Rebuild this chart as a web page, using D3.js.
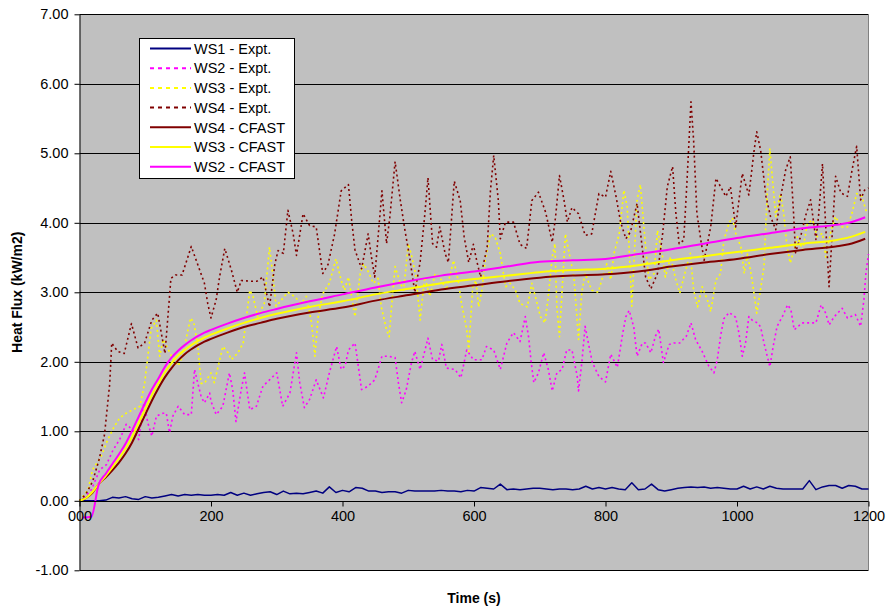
<!DOCTYPE html>
<html><head><meta charset="utf-8">
<script src="https://cdn.jsdelivr.net/npm/d3@7"></script>
<style>
html,body{margin:0;padding:0;background:#fff;}
svg text{font-family:"Liberation Sans",Arial,sans-serif;}
</style></head>
<body><svg id="chart" width="889" height="612"></svg>
<script>
// ---------- data ----------
const xTickValues = [0, 200, 400, 600, 800, 1000, 1200];
const xTickLabels = ["000", "200", "400", "600", "800", "1000", "1200"];
const yTickValues = [-1, 0, 1, 2, 3, 4, 5, 6, 7];
const yTickLabels = ["-1.00", "0.00", "1.00", "2.00", "3.00", "4.00", "5.00", "6.00", "7.00"];

const ws1Times = d3.range(0, 1201, 10);
const ws1Expt = [0,0,0,0,0.01,0.05,0.04,0.06,0.03,0.02,0.06,0.04,0.05,0.07,0.09,0.07,0.09,0.08,0.09,0.08,
  0.08,0.09,0.08,0.12,0.08,0.11,0.08,0.1,0.12,0.13,0.09,0.14,0.1,0.11,0.1,0.12,0.14,0.11,0.2,0.12,
  0.15,0.13,0.19,0.18,0.14,0.14,0.12,0.13,0.13,0.11,0.15,0.14,0.14,0.14,0.14,0.15,0.14,0.14,0.13,0.15,
  0.14,0.19,0.18,0.17,0.24,0.16,0.17,0.16,0.17,0.18,0.18,0.17,0.16,0.17,0.17,0.16,0.17,0.21,0.17,0.19,
  0.17,0.19,0.17,0.16,0.26,0.16,0.17,0.24,0.16,0.14,0.16,0.18,0.19,0.2,0.19,0.2,0.18,0.19,0.18,0.17,
  0.17,0.21,0.17,0.2,0.17,0.21,0.18,0.17,0.17,0.17,0.17,0.29,0.16,0.2,0.22,0.22,0.18,0.22,0.21,0.17,0.17];

const ws2Expt = [[0,0],[9,0.06],[18,0.16],[31,0.45],[41,0.52],[51,0.73],[61,0.88],[71,1.1],[81,1.02],[90,0.88],[98,1.41],[104,1.12],[110,0.93],[117,1.22],[127,1.26],[132,1.26],[137,0.98],[142,1.22],[150,1.36],[160,1.24],[170,1.24],[175,1.89],[180,1.69],[185,1.5],[190,1.41],[198,1.55],[200,1.43],[208,1.24],[218,1.36],[228,1.84],[233,1.6],[238,1.14],[246,1.6],[251,1.84],[259,1.31],[269,1.36],[279,1.65],[289,1.74],[300,1.84],[309,1.36],[320,1.55],[330,2.13],[335,1.7],[342,1.34],[350,1.46],[360,1.74],[371,1.48],[380,1.84],[391,2.22],[398,1.89],[404,1.94],[409,2.17],[419,2.27],[424,1.94],[429,1.6],[439,1.65],[449,1.74],[454,1.89],[460,2.08],[470,2.08],[480,2.06],[485,1.7],[490,1.41],[497,1.6],[505,1.99],[510,2.15],[518,1.89],[525,2.15],[530,2.34],[537,2.03],[546,2.01],[551,2.25],[558,1.91],[571,1.89],[580,1.77],[589,2.17],[599,2.03],[612,2.03],[619,2.22],[630,2.17],[640,1.89],[650,2.27],[660,2.42],[670,2.29],[678,2.65],[683,2.36],[687,1.99],[691,1.7],[698,1.84],[706,2.13],[713,1.89],[719,1.58],[726,1.84],[734,1.89],[741,2.17],[749,2.17],[757,1.79],[759,1.58],[764,1.99],[769,2.51],[775,2.22],[780,1.99],[790,1.79],[800,1.71],[808,2.11],[818,1.92],[826,2.4],[831,2.65],[836,2.74],[843,2.5],[848,2.08],[856,2.27],[861,2.27],[869,2.13],[876,2.37],[881,2.47],[888,1.99],[897,2.25],[904,2.27],[913,2.27],[923,2.37],[930,2.56],[937,2.32],[947,2.15],[957,1.94],[965,1.84],[970,2.03],[975,2.37],[980,2.62],[988,2.71],[998,2.64],[1003,2.41],[1008,2.08],[1013,2.27],[1018,2.65],[1023,2.6],[1031,2.56],[1036,2.5],[1041,2.27],[1046,2.08],[1050,1.93],[1055,2.22],[1061,2.51],[1069,2.65],[1077,2.82],[1082,2.75],[1087,2.46],[1092,2.5],[1099,2.56],[1112,2.56],[1120,2.56],[1128,2.82],[1135,2.7],[1140,2.53],[1148,2.65],[1160,2.77],[1168,2.63],[1180,2.68],[1188,2.51],[1193,2.89],[1196,3.27],[1200,3.55]];

const ws3Expt = [[0,0],[13,0.16],[20,0.45],[33,0.64],[43,0.88],[53,1.07],[61,1.19],[71,1.26],[81,1.31],[92,1.36],[99,1.69],[104,2.08],[109,2.48],[117,2.6],[122,2.08],[127,2.32],[135,2.18],[140,2.08],[150,1.94],[157,2.08],[165,2.46],[169,2.63],[174,2.56],[180,2.22],[185,1.69],[190,1.69],[200,1.84],[205,1.7],[218,2.22],[226,2.13],[231,2.03],[241,2.13],[249,2.27],[254,2.65],[259,3.03],[264,2.94],[271,2.65],[281,2.84],[289,3.65],[294,3.25],[299,2.8],[307,2.89],[317,3.0],[327,2.94],[337,2.84],[345,2.94],[353,2.56],[358,2.08],[363,2.65],[370,2.98],[380,3.13],[390,3.48],[398,3.17],[403,3.03],[409,3.22],[419,2.65],[427,3.27],[432,3.41],[439,3.3],[447,3.13],[454,3.2],[459,2.79],[467,2.46],[471,2.36],[475,2.84],[480,3.37],[488,3.13],[493,3.03],[500,3.7],[505,3.53],[512,3.22],[518,2.6],[525,3.22],[533,2.94],[541,3.27],[548,3.22],[558,3.03],[569,3.46],[576,3.17],[581,2.84],[589,2.46],[592,2.15],[598,3.08],[603,3.17],[607,2.79],[612,3.03],[617,3.46],[625,3.84],[632,3.8],[640,3.56],[648,3.08],[655,3.13],[663,3.03],[670,2.84],[681,2.79],[688,3.13],[696,2.84],[701,2.65],[708,2.56],[713,2.94],[719,3.51],[723,3.7],[726,2.79],[730,2.36],[734,3.03],[739,3.84],[744,3.6],[752,3.22],[759,2.32],[764,3.0],[769,3.27],[779,3.03],[789,3.0],[795,3.2],[802,3.41],[808,3.18],[813,3.56],[821,3.85],[828,4.47],[833,4.23],[840,2.8],[848,4.33],[853,4.55],[861,3.65],[866,3.18],[874,3.27],[879,3.89],[886,3.56],[891,3.22],[899,3.51],[907,3.18],[913,2.99],[920,3.25],[929,3.56],[934,3.03],[940,2.79],[947,3.08],[955,2.89],[960,2.72],[968,3.18],[975,3.27],[980,3.75],[988,4.0],[993,4.07],[998,3.85],[1006,3.65],[1011,3.27],[1016,3.55],[1023,3.18],[1030,2.7],[1035,2.99],[1041,3.37],[1046,4.42],[1050,5.07],[1054,4.62],[1059,4.09],[1066,4.42],[1071,4.14],[1076,3.66],[1081,3.42],[1092,3.8],[1100,3.61],[1107,3.99],[1115,4.04],[1122,3.8],[1130,3.85],[1135,3.51],[1143,3.89],[1150,4.09],[1158,3.94],[1168,3.94],[1175,4.14],[1182,4.42],[1190,4.38],[1196,4.18],[1200,4.14]];

const ws4Expt = [[0,0],[10,0.1],[20,0.28],[30,0.6],[38,0.95],[46,1.69],[49,2.27],[58,2.15],[68,2.12],[79,2.55],[89,2.2],[99,2.27],[110,2.6],[119,2.7],[130,2.12],[137,2.95],[139,3.2],[146,3.25],[156,3.25],[170,3.66],[176,3.5],[190,3.13],[195,2.84],[200,2.63],[208,2.9],[213,3.22],[221,3.63],[231,3.32],[240,3.0],[246,3.17],[260,3.16],[270,3.16],[279,3.22],[289,2.79],[297,3.4],[302,3.6],[310,3.56],[317,4.18],[325,3.84],[330,3.53],[340,4.13],[350,3.96],[360,3.94],[370,3.27],[378,3.4],[388,3.84],[398,4.46],[409,4.55],[414,4.03],[419,3.61],[429,3.34],[439,3.84],[444,3.51],[449,3.22],[460,4.46],[467,3.7],[472,4.08],[480,4.88],[488,4.32],[495,3.89],[502,3.51],[510,3.0],[518,3.43],[525,4.1],[530,4.65],[537,3.7],[543,3.65],[548,3.94],[556,3.56],[561,3.43],[570,4.6],[579,4.32],[585,3.8],[592,3.43],[599,3.69],[604,3.46],[610,3.22],[620,3.65],[625,4.46],[630,4.97],[637,4.32],[640,3.77],[648,4.01],[660,4.01],[670,3.69],[680,3.63],[688,4.32],[698,4.44],[709,4.15],[719,3.72],[724,4.08],[730,4.68],[737,4.32],[742,4.01],[749,4.22],[759,4.13],[769,3.82],[779,3.84],[790,4.42],[800,4.37],[808,4.74],[816,4.38],[823,4.01],[831,3.77],[838,3.87],[848,4.28],[856,3.63],[861,3.22],[869,3.05],[879,3.27],[887,3.85],[894,4.52],[902,4.81],[907,4.14],[912,3.7],[919,3.75],[924,4.61],[930,5.74],[934,5.19],[939,4.14],[945,3.75],[950,3.46],[960,3.94],[968,4.64],[975,4.52],[983,4.38],[990,4.52],[998,3.94],[1008,4.71],[1018,4.4],[1026,5.04],[1030,5.31],[1036,5.04],[1044,4.38],[1051,4.09],[1059,3.9],[1066,4.35],[1074,4.76],[1081,4.95],[1086,4.14],[1089,3.57],[1097,3.81],[1104,4.09],[1112,4.33],[1120,3.76],[1124,4.09],[1130,4.85],[1135,3.94],[1140,3.08],[1144,3.71],[1150,4.67],[1158,4.43],[1168,4.38],[1175,4.76],[1182,5.1],[1188,4.33],[1194,4.47],[1200,4.5]];

const ws4Cfast = [[0,0],[10,0.04],[20,0.12],[30,0.25],[40,0.34],[50,0.44],[60,0.55],[70,0.68],[80,0.84],[90,1.04],[100,1.24],[110,1.44],[120,1.62],[130,1.78],[140,1.91],[150,2.02],[160,2.11],[170,2.18],[180,2.24],[190,2.29],[200,2.33],[225,2.42],[250,2.5],[275,2.56],[300,2.62],[350,2.71],[400,2.78],[450,2.88],[500,2.96],[550,3.04],[600,3.1],[650,3.16],[700,3.21],[750,3.24],[800,3.26],[850,3.3],[900,3.37],[950,3.43],[1000,3.48],[1050,3.55],[1100,3.61],[1150,3.66],[1170,3.69],[1195,3.77]];

const ws3Cfast = [[0,0],[10,0.04],[20,0.13],[30,0.25],[40,0.36],[50,0.48],[60,0.61],[70,0.75],[80,0.92],[90,1.12],[100,1.32],[110,1.52],[120,1.69],[130,1.85],[140,1.98],[150,2.09],[160,2.17],[170,2.24],[180,2.3],[190,2.35],[200,2.39],[225,2.48],[250,2.56],[275,2.63],[300,2.69],[350,2.79],[400,2.87],[450,2.97],[500,3.05],[550,3.13],[600,3.19],[650,3.24],[700,3.29],[750,3.32],[800,3.34],[850,3.39],[900,3.46],[950,3.52],[1000,3.58],[1050,3.64],[1100,3.7],[1150,3.75],[1170,3.79],[1195,3.87]];

const ws2Cfast = [[5,-0.24],[18,-0.23],[29,0.23],[40,0.39],[50,0.53],[60,0.67],[70,0.82],[80,1.01],[90,1.21],[100,1.41],[110,1.6],[120,1.76],[130,1.93],[140,2.06],[150,2.16],[160,2.24],[170,2.31],[180,2.37],[190,2.42],[200,2.46],[225,2.55],[250,2.63],[275,2.7],[300,2.76],[350,2.87],[400,2.97],[450,3.07],[500,3.16],[550,3.24],[600,3.3],[650,3.37],[700,3.44],[750,3.46],[800,3.48],[850,3.55],[900,3.62],[950,3.7],[1000,3.78],[1050,3.85],[1100,3.92],[1150,3.97],[1170,4.0],[1195,4.08]];

const seriesNames = ["WS1 - Expt.", "WS2 - Expt.", "WS3 - Expt.", "WS4 - Expt.", "WS4 - CFAST", "WS3 - CFAST", "WS2 - CFAST"];
const seriesColors = ["#000080", "#FF00FF", "#FFFF00", "#800000", "#800000", "#FFFF00", "#FF00FF"];

// ---------- chart ----------
const svg = d3.select("#chart");
const L = 79.5, R = 868.5, T = 14.3, B = 570.3;
const x = d3.scaleLinear().domain([0, 1200]).range([L, R]);
const y = d3.scaleLinear().domain([-1, 7]).range([B, T]);

svg.append("rect").attr("x", L).attr("y", T).attr("width", R - L).attr("height", B - T)
  .attr("fill", "#C0C0C0");

// gridlines
svg.append("g").selectAll("line").data(yTickValues).join("line")
  .attr("x1", L).attr("x2", R).attr("y1", d => Math.round(y(d)) + 0.5).attr("y2", d => Math.round(y(d)) + 0.5)
  .attr("stroke", "#000").attr("stroke-width", 1);
// right border
svg.append("line").attr("x1", R).attr("x2", R).attr("y1", T).attr("y2", B)
  .attr("stroke", "#808080").attr("stroke-width", 1);

const seriesData = [
  ws1Times.map((t, i) => [t, ws1Expt[i]]),
  ws2Expt, ws3Expt, ws4Expt, ws4Cfast, ws3Cfast, ws2Cfast
];
const dashed = [false, true, true, true, false, false, false];
const widths = [1.5, 1.6, 1.6, 1.6, 2, 2, 2];

const lineLin = d3.line().x(d => x(d[0])).y(d => y(d[1]));
const lineSmooth = d3.line().x(d => x(d[0])).y(d => y(d[1])).curve(d3.curveMonotoneX);

const gLines = svg.append("g");
seriesData.forEach((data, i) => {
  gLines.append("path").datum(data)
    .attr("d", i >= 4 ? lineSmooth : lineLin)
    .attr("fill", "none")
    .attr("stroke", seriesColors[i])
    .attr("stroke-width", widths[i])
    .attr("stroke-dasharray", dashed[i] ? "2,3" : null)
    .attr("stroke-linejoin", "round");
});

// axes
const yAxis = d3.axisLeft(y).tickValues(yTickValues).tickFormat((d, i) => yTickLabels[i]).tickSize(5).tickPadding(6);
const gy = svg.append("g").attr("transform", `translate(${L},0)`).call(yAxis);
const xAxis = d3.axisBottom(x).tickValues(xTickValues).tickFormat((d, i) => xTickLabels[i]).tickSize(5).tickPadding(4);
const gx = svg.append("g").attr("transform", `translate(0,${Math.round(y(0)) + 0.5})`).call(xAxis);
[gx, gy].forEach(g => {
  g.select(".domain").attr("stroke", "#000");
  g.selectAll(".tick line").attr("stroke", "#000");
  g.selectAll("text").attr("font-size", "14.5px").attr("fill", "#000")
    .attr("font-family", "'Liberation Sans', Arial, sans-serif");
});
gy.select(".domain").attr("d", `M0.5,${T}V${B}`);
gx.select(".domain").attr("d", `M${L},0H${R}`);

// axis titles
svg.append("text").attr("x", (L + R) / 2).attr("y", 603).attr("text-anchor", "middle")
  .attr("font-size", "14px").attr("font-weight", "bold").text("Time (s)");
svg.append("text").attr("transform", `translate(22,${(T + B) / 2}) rotate(-90)`)
  .attr("text-anchor", "middle").attr("font-size", "14px").attr("font-weight", "bold")
  .text("Heat Flux (kW/m2)");

// legend
const lg = svg.append("g");
lg.append("rect").attr("x", 139.5).attr("y", 38.5).attr("width", 155).attr("height", 140)
  .attr("fill", "#fff").attr("stroke", "#000").attr("stroke-width", 1);
seriesNames.forEach((name, i) => {
  const cy = 48.5 + i * 19.7;
  lg.append("line").attr("x1", 150).attr("x2", 191).attr("y1", cy).attr("y2", cy)
    .attr("stroke", seriesColors[i]).attr("stroke-width", 2)
    .attr("stroke-dasharray", dashed[i] ? "4,4" : null);
  lg.append("text").attr("x", 194).attr("y", cy).attr("dy", "0.36em")
    .attr("font-size", "14.5px").text(name);
});
</script>
</body></html>
